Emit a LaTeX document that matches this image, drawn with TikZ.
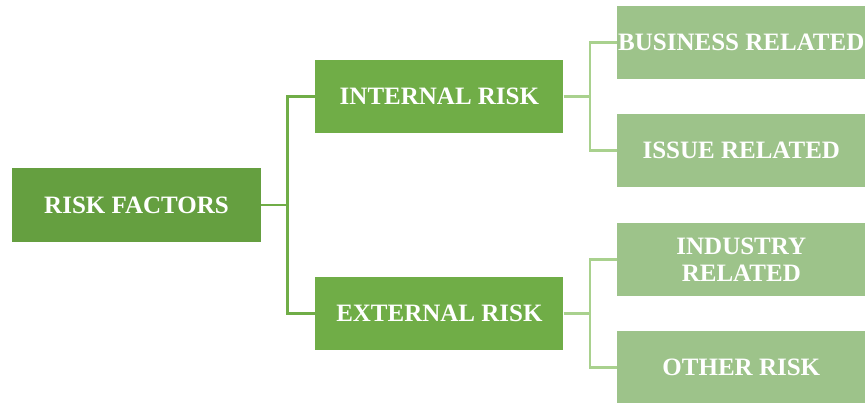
\documentclass[tikz,border=0pt]{standalone}
\usepackage{fontspec}
\setmainfont{Liberation Serif}
\usetikzlibrary{positioning}
\definecolor{RootGreen}{HTML}{659F40}
\definecolor{MidGreen}{HTML}{70AD47}
\definecolor{LeafGreen}{HTML}{9DC38A}
\definecolor{TwigGreen}{HTML}{A9D18E}

\begin{document}
\begin{tikzpicture}[
        node distance=54pt,
        tier/.style={minimum width=249pt,minimum height=74pt,inner sep=0pt,align=center,text=white,font=\fontsize{25}{26.5}\selectfont\bfseries},
        rootbox/.style={tier,fill=RootGreen},
        midbox/.style={tier,fill=MidGreen,minimum width=248pt,minimum height=73pt},
        leafbox/.style={tier,fill=LeafGreen,minimum height=73pt},
        trunk/.style={line width=2.5pt,draw=MidGreen},
        twig/.style={line width=2.5pt,draw=TwigGreen}
      ]
        \useasboundingbox (0,0) rectangle (865pt,-402pt);
        \node[rootbox] (risk) at (136.5pt,-205pt) {RISK FACTORS};
        \node[midbox,right=of risk,yshift=108.5pt] (internal) {INTERNAL RISK};
        \node[midbox,right=of risk,yshift=-108.5pt] (external) {EXTERNAL RISK};
        \node[leafbox,right=53pt of internal,yshift=54pt] (business) {BUSINESS RELATED};
        \node[leafbox,right=53pt of internal,yshift=-54pt] (issue) {ISSUE RELATED};
        \node[leafbox,right=53pt of external,yshift=54pt] (industry) {INDUSTRY\\RELATED};
        \node[leafbox,right=53pt of external,yshift=-54pt] (other) {OTHER RISK};
        \draw[trunk] (risk.east) -- ++(26.5pt,0) |- (internal.west);
        \draw[trunk] (risk.east) -- ++(26.5pt,0) |- (external.west);
        \draw[twig] (internal.east) -- ++(26.5pt,0) |- (business.west);
        \draw[twig] (internal.east) -- ++(26.5pt,0) |- (issue.west);
        \draw[twig] (external.east) -- ++(26.5pt,0) |- (industry.west);
        \draw[twig] (external.east) -- ++(26.5pt,0) |- (other.west);
      \end{tikzpicture}
\end{document}
